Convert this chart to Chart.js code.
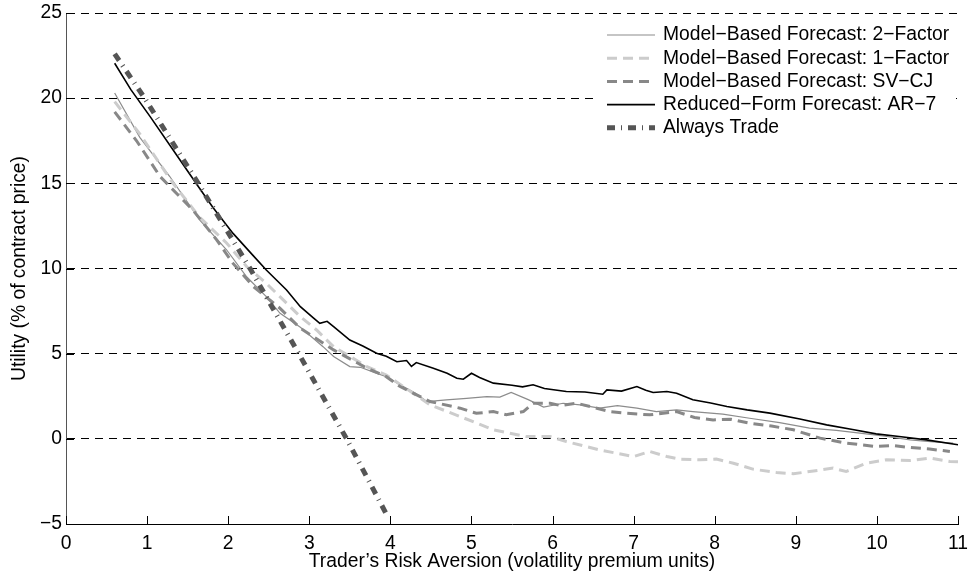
<!DOCTYPE html>
<html lang="en">
<head>
    <meta charset="UTF-8">
    <title>Utility vs risk aversion</title>
    <style>
        body{
            margin: 0;
            background-color: #ffffff;
        }
        canvas {
            display: block;
        }
    </style>
</head>
<body>
    <canvas id="chart" width="973" height="577"></canvas>

    <script src="https://cdn.jsdelivr.net/npm/chart.js"></script>

    <script>
        // values
        const xTicks = [0, 1, 2, 3, 4, 5, 6, 7, 8, 9, 10, 11];
        const yTicks = [-5, 0, 5, 10, 15, 20, 25];

        const twoX = [0.6, 0.91, 1.28, 1.65, 1.98, 2.23, 2.47, 2.64, 2.89, 3.17, 3.3, 3.5, 3.63, 3.8, 3.95, 4.12, 4.3, 4.45, 4.69, 4.94, 5.19, 5.35, 5.49, 5.7, 5.89, 6.13, 6.34, 6.58, 6.8, 7.04, 7.28, 7.53, 7.73, 8.1, 8.43, 8.8, 9.17, 9.5, 9.79, 10.1, 10.41, 10.7, 10.94];
        const twoY = [20.3, 17.7, 15.4, 12.84, 11.1, 9.5, 8.35, 7.37, 6.55, 5.41, 4.83, 4.24, 4.2, 3.9, 3.65, 3.17, 2.7, 2.19, 2.29, 2.38, 2.48, 2.45, 2.72, 2.3, 1.86, 2.09, 1.99, 1.8, 1.95, 1.8, 1.6, 1.7, 1.6, 1.45, 1.21, 0.95, 0.63, 0.5, 0.33, 0.15, -0.06, -0.18, -0.25];

        const oneX = [0.6, 0.91, 1.32, 1.65, 1.98, 2.23, 2.47, 2.89, 3.09, 3.3, 3.71, 3.95, 4.28, 4.49, 4.86, 5.27, 5.68, 5.97, 6.17, 6.58, 7.0, 7.2, 7.41, 7.57, 7.82, 8.02, 8.23, 8.47, 8.76, 8.97, 9.17, 9.46, 9.62, 9.87, 10.12, 10.41, 10.65, 10.9, 11.0];
        const oneY = [19.8, 17.9, 15.0, 13.0, 11.5, 10.1, 9.13, 7.17, 6.39, 5.41, 4.24, 3.75, 2.68, 1.99, 1.31, 0.53, 0.13, 0.13, -0.16, -0.65, -1.04, -0.74, -1.04, -1.19, -1.23, -1.19, -1.43, -1.78, -1.97, -2.05, -1.92, -1.72, -1.92, -1.43, -1.23, -1.27, -1.13, -1.33, -1.35];

        const svX = [0.6, 0.87, 1.16, 1.57, 1.86, 2.06, 2.31, 2.64, 2.89, 3.3, 3.71, 3.95, 4.12, 4.28, 4.49, 4.86, 5.06, 5.27, 5.43, 5.64, 5.76, 5.97, 6.1, 6.3, 6.5, 6.71, 6.91, 7.2, 7.53, 7.75, 7.98, 8.2, 8.43, 8.7, 8.97, 9.3, 9.62, 9.99, 10.2, 10.41, 10.65, 10.9];
        const svY = [19.2, 17.5, 15.4, 13.4, 11.67, 10.3, 8.94, 7.66, 6.49, 5.22, 4.15, 3.65, 3.07, 2.68, 2.19, 1.8, 1.5, 1.6, 1.41, 1.6, 2.09, 2.09, 1.95, 2.09, 1.85, 1.6, 1.5, 1.41, 1.6, 1.25, 1.11, 1.15, 0.92, 0.75, 0.53, 0.04, -0.25, -0.45, -0.4, -0.51, -0.6, -0.74];

        const arX = [0.6, 0.8, 1.04, 1.3, 1.61, 1.81, 2.06, 2.3, 2.47, 2.72, 2.89, 3.05, 3.13, 3.22, 3.3, 3.5, 3.66, 3.83, 3.95, 4.08, 4.2, 4.26, 4.32, 4.53, 4.7, 4.82, 4.9, 5.0, 5.1, 5.27, 5.5, 5.63, 5.76, 5.9, 6.17, 6.4, 6.62, 6.67, 6.85, 7.04, 7.15, 7.24, 7.41, 7.53, 7.73, 7.95, 8.15, 8.4, 8.68, 9.05, 9.38, 9.7, 9.99, 10.3, 10.61, 11.0];
        const arY = [22.05, 20.5, 18.9, 17.1, 14.96, 13.6, 12.06, 10.8, 9.91, 8.74, 7.76, 7.1, 6.78, 6.9, 6.59, 5.8, 5.45, 5.03, 4.85, 4.53, 4.6, 4.25, 4.48, 4.15, 3.85, 3.56, 3.5, 3.85, 3.6, 3.27, 3.15, 3.05, 3.17, 2.95, 2.78, 2.75, 2.62, 2.87, 2.8, 3.07, 2.85, 2.72, 2.78, 2.68, 2.29, 2.1, 1.9, 1.7, 1.51, 1.16, 0.82, 0.55, 0.29, 0.12, -0.06, -0.35];

        const alwaysX = [0.6, 0.97, 1.63, 2.27, 2.87, 3.46, 3.96];
        const alwaysY = [22.6, 20, 15, 10, 5, 0, -4.5];

        const FONT = "'Liberation Sans', Arial, sans-serif";
        const FSIZE = 19.3;
        const minus = s => String(s).replace('-', '\u2212');

        function pts(xs, ys) {
            return xs.map((x, i) => ({ x: x, y: ys[i] }));
        }

        // inward tick marks like the original axes
        const innerTicks = {
            id: 'innerTicks',
            afterDraw(chart) {
                const ctx = chart.ctx;
                const a = chart.chartArea;
                const xs = chart.scales.x, ys = chart.scales.y;
                ctx.save();
                ctx.strokeStyle = '#000';
                ctx.lineWidth = 1;
                ctx.beginPath();
                xTicks.forEach(v => {
                    const px = Math.round(xs.getPixelForValue(v)) + 0.5;
                    ctx.moveTo(px, a.bottom);
                    ctx.lineTo(px, a.bottom - 8);
                });
                yTicks.forEach(v => {
                    const py = Math.round(ys.getPixelForValue(v)) + 0.5;
                    ctx.moveTo(a.left, py);
                    ctx.lineTo(a.left + 8, py);
                });
                ctx.stroke();
                ctx.restore();
            }
        };

        // legend box inside the top right corner
        const boxLegend = {
            id: 'boxLegend',
            afterDraw(chart) {
                const ctx = chart.ctx;
                const a = chart.chartArea;
                ctx.save();
                ctx.fillStyle = '#fff';
                ctx.fillRect(a.right - 360, a.top + 8, 358, 128);
                chart.data.datasets.forEach((ds, i) => {
                    const y = a.top + 22 + i * 23.2;
                    const x0 = a.right - 351;
                    ctx.beginPath();
                    ctx.setLineDash(ds.borderDash || []);
                    ctx.lineWidth = ds.borderWidth;
                    ctx.strokeStyle = ds.borderColor;
                    ctx.moveTo(x0, y);
                    ctx.lineTo(x0 + 48, y);
                    ctx.stroke();
                    ctx.setLineDash([]);
                    ctx.fillStyle = '#000';
                    ctx.font = FSIZE + 'px ' + FONT;
                    ctx.textBaseline = 'middle';
                    ctx.textAlign = 'left';
                    ctx.fillText(ds.label, x0 + 56, y);
                });
                ctx.restore();
            }
        };

        const ctx = document.getElementById('chart').getContext('2d');

        const chart = new Chart(ctx, {
            type: 'line',
            data: {
                datasets: [
                    {
                        label: 'Model\u2212Based Forecast: 2\u2212Factor',
                        data: pts(twoX, twoY),
                        borderColor: '#8c8c8c',
                        borderWidth: 1.2,
                        order: 5
                    },
                    {
                        label: 'Model\u2212Based Forecast: 1\u2212Factor',
                        data: pts(oneX, oneY),
                        borderColor: '#cccccc',
                        borderWidth: 3,
                        borderDash: [10, 6],
                        order: 4
                    },
                    {
                        label: 'Model\u2212Based Forecast: SV\u2212CJ',
                        data: pts(svX, svY),
                        borderColor: '#888888',
                        borderWidth: 3,
                        borderDash: [10, 6],
                        order: 3
                    },
                    {
                        label: 'Reduced\u2212Form Forecast: AR\u22127',
                        data: pts(arX, arY),
                        borderColor: '#000000',
                        borderWidth: 1.6,
                        order: 2
                    },
                    {
                        label: 'Always Trade',
                        data: pts(alwaysX, alwaysY),
                        borderColor: '#555555',
                        borderWidth: 5,
                        borderDash: [8, 6, 1, 6],
                        order: 1
                    }
                ]
            },
            options: {
                responsive: false,
                animation: false,
                devicePixelRatio: 1,
                elements: {
                    point: { radius: 0 },
                    line: { tension: 0, borderCapStyle: 'butt' }
                },
                layout: {
                    padding: { left: 0, right: 15, top: 13, bottom: 0 }
                },
                plugins: {
                    legend: { display: false },
                    tooltip: { enabled: false }
                },
                scales: {
                    x: {
                        type: 'linear',
                        min: 0,
                        max: 11,
                        afterBuildTicks: s => { s.ticks = xTicks.map(v => ({ value: v })); },
                        afterFit: s => { s.height = 53; s.paddingLeft = 0; s.paddingRight = 0; },
                        ticks: {
                            color: '#000',
                            padding: 8,
                            maxRotation: 0,
                            font: { family: FONT, size: FSIZE },
                            callback: v => minus(v)
                        },
                        grid: { drawOnChartArea: false, drawTicks: false },
                        border: { display: true, color: '#000', width: 1 },
                        title: {
                            display: true,
                            text: 'Trader\u2019s Risk Aversion (volatility premium units)',
                            color: '#000',
                            font: { family: FONT, size: FSIZE },
                            padding: { top: 0, bottom: 4 }
                        }
                    },
                    y: {
                        min: -5,
                        max: 25,
                        afterBuildTicks: s => { s.ticks = yTicks.map(v => ({ value: v })); },
                        afterFit: s => { s.width = 66; s.paddingTop = 0; s.paddingBottom = 0; },
                        ticks: {
                            color: '#000',
                            padding: 4,
                            font: { family: FONT, size: FSIZE },
                            callback: v => minus(v)
                        },
                        grid: { color: '#000', lineWidth: 1, drawTicks: false },
                        border: { display: true, color: '#555', width: 1, dash: [8, 6] },
                        title: {
                            display: true,
                            text: 'Utility (% of contract price)',
                            color: '#000',
                            font: { family: FONT, size: FSIZE },
                            padding: { top: 8, bottom: 0 }
                        }
                    }
                }
            },
            plugins: [innerTicks, boxLegend]
        });
    </script>
</body>
</html>
